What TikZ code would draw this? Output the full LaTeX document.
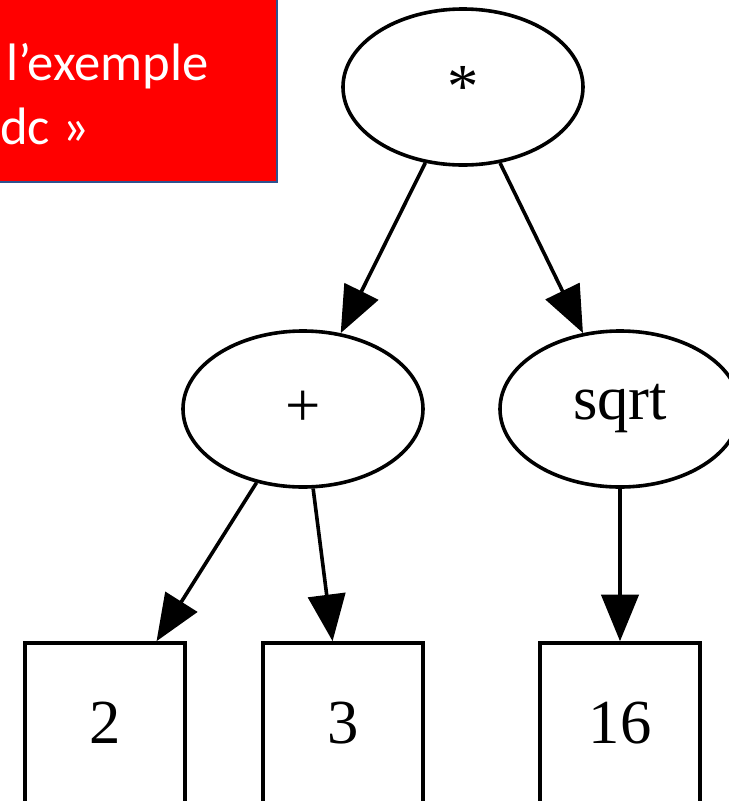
\documentclass[tikz,border=0pt]{standalone}
\usepackage{fontspec}
\setmainfont{Liberation Serif}
\newfontfamily\calfont{Carlito}
\usepackage{tikz}
\usetikzlibrary{arrows.meta,shapes.geometric}
\definecolor{redbox}{HTML}{FF0000}
\definecolor{boxedge}{HTML}{2F528F}
\tikzset{
  op/.style={ellipse, draw=black, line width=2.7pt, minimum width=180pt,
             minimum height=117pt, inner sep=0pt, font=\fontsize{47}{50}\selectfont},
  leaf/.style={rectangle, draw=black, line width=2.7pt, minimum width=120pt,
               minimum height=120pt, inner sep=0pt, font=\fontsize{47}{50}\selectfont},
  ed/.style={draw=black, line width=2.7pt, -{Triangle[length=35pt, width=28pt]}},  % tree edge
  lbl/.style={font=\calfont\fontsize{39.5}{40}\selectfont, text=white, inner sep=0pt},
}
\begin{document}
\begin{tikzpicture}[x=0.75pt, y=-0.75pt]
  \clip (0,0) rectangle (729,801);
  % title box, cut by the frame
  \draw[fill=redbox, draw=boxedge, line width=1.5pt] (-30,-30) rectangle (277,182);
  \node[lbl, anchor=base west] (t1) at (6,80)  {l’exemple};
  \node[lbl, anchor=base west] (t2) at (0,144) {dc »};
  % tree
  \node[op] (nMul)  at (463,87)  {*};
  \node[op] (nAdd)  at (303,409) {+};
  \node[op] (nSqrt) at (620,409) {sqrt};
  \node[leaf] (n2)  at (105,723) {2};
  \node[leaf] (n3)  at (343,723) {3};
  \node[leaf] (n16) at (620,723) {16};
  \foreach \u/\v in {nMul/nAdd,nMul/nSqrt,nAdd/n2,nAdd/n3,nSqrt/n16} \draw[ed] (\u)--(\v);
\end{tikzpicture}
\end{document}
